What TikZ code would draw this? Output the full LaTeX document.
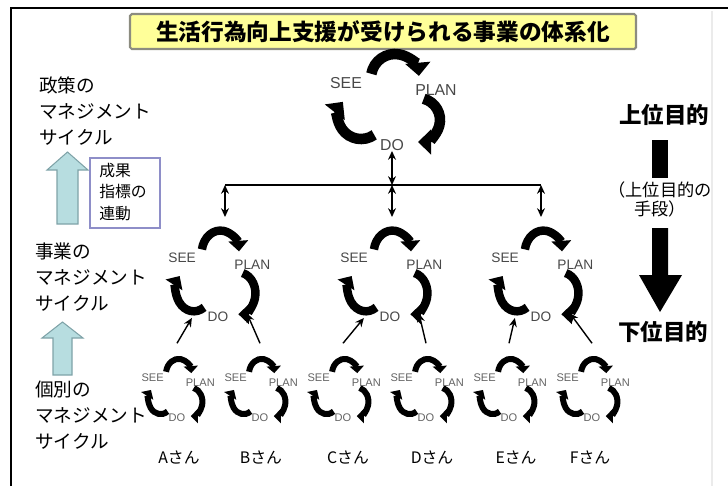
\documentclass[tikz,border=0pt]{standalone}
\usepackage{fontspec}
\setmainfont{Liberation Sans}
\newfontfamily\jp{Noto Sans CJK JP}
\usetikzlibrary{arrows.meta}

\definecolor{titlefill}{HTML}{FFFF99}
\definecolor{titleline}{HTML}{8C8C80}
\definecolor{upfill}{HTML}{B7DDE0}
\definecolor{upline}{HTML}{7FA3A8}
\definecolor{boxline}{HTML}{8E8EC8}
\definecolor{labgray}{HTML}{484848}

\tikzset{
  cyc top/.style={line width=6pt, -{Triangle[width=14pt,length=7.5pt]}},
  cyc mid/.style={line width=4.8pt, -{Triangle[width=11pt,length=6pt]}},
  cyc small/.style={line width=3.4pt, -{Triangle[width=8pt,length=4pt]}},
  lab/.style={inner sep=0pt, text=labgray},
  lab top/.style={lab, font=\fontsize{9}{10}\selectfont},
  lab mid/.style={lab, font=\fontsize{7.8}{9}\selectfont},
  lab small/.style={lab, text=labgray!85, font=\fontsize{6.3}{7}\selectfont},
}

% one SEE-PLAN-DO cycle: name, centre, xscale, yscale, arrow style, label style
\newcommand{\pdcycle}[6]{%
  \begin{scope}[shift={#2}, xscale=#3, yscale=#4]
    \coordinate (#1) at (0,0);
    \coordinate (#1-top) at (0,1.5);
    \coordinate (#1-dl) at (-0.67,-0.82);
    \coordinate (#1-dr) at (0.74,-0.72);
    \draw[#5] (0.06,0.54) ++(170:0.48) arc[start angle=170, end angle=5, radius=0.48];
    \draw[#5] (0.52,-0.30) ++(75:0.44) arc[start angle=75, end angle=-90, radius=0.44];
    \draw[#5] (-0.62,-0.22) ++(-55:0.46) arc[start angle=-55, end angle=-218, radius=0.46];
    \node[#6] (#1-see) at (-0.92,0.44) {SEE};
    \node[#6] (#1-plan) at (0.88,0.30) {PLAN};
    \node[#6] (#1-do) at (0,-0.80) {DO};
  \end{scope}}

\begin{document}
\begin{tikzpicture}[>={Stealth[length=5pt,width=4.5pt]},
    dbl/.style={<->, line width=0.8pt},
    feed/.style={->, line width=0.8pt},
    level/.style={anchor=west, align=left, inner sep=0pt, font=\jp\fontsize{10.6}{15}\selectfont},
    goal/.style={inner sep=0pt, font=\jp\bfseries\fontsize{12.8}{14}\selectfont},
    who/.style={inner sep=0pt, font=\jp\fontsize{9}{10}\selectfont}]

    \useasboundingbox (0,0) rectangle (14.56,-9.72);
    \draw[line width=1pt] (0.22,-9.72) -- (0.22,-0.16) -- (14.56,-0.16);
    \draw[black!8, line width=0.6pt] (14.24,-0.22) -- (14.24,-9.72);

    % title
    \node[draw=titleline, fill=titlefill, line width=1.2pt, rounded corners=1pt,
      minimum width=10.12cm, minimum height=0.70cm, inner sep=0pt,
      font=\jp\bfseries\fontsize{12.9}{14}\selectfont] (title) at (7.66,-0.63)
      {生活行為向上支援が受けられる事業の体系化};

    % cycles
    \pdcycle{top}{(7.84,-2.10)}{1}{1}{cyc top}{lab top}
    \pdcycle{m1}{(4.36,-5.58)}{0.78}{0.95}{cyc mid}{lab mid}
    \pdcycle{m2}{(7.80,-5.58)}{0.78}{0.95}{cyc mid}{lab mid}
    \pdcycle{m3}{(10.82,-5.58)}{0.78}{0.95}{cyc mid}{lab mid}
    \pdcycle{a}{(3.54,-7.84)}{0.53}{0.65}{cyc small}{lab small}
    \pdcycle{b}{(5.20,-7.84)}{0.53}{0.65}{cyc small}{lab small}
    \pdcycle{c}{(6.86,-7.84)}{0.53}{0.65}{cyc small}{lab small}
    \pdcycle{d}{(8.52,-7.84)}{0.53}{0.65}{cyc small}{lab small}
    \pdcycle{e}{(10.18,-7.84)}{0.53}{0.65}{cyc small}{lab small}
    \pdcycle{f}{(11.84,-7.84)}{0.53}{0.65}{cyc small}{lab small}

    \node[who] (who-a) at (3.58,-9.16) {Aさん};
    \node[who] (who-b) at (5.22,-9.16) {Bさん};
    \node[who] (who-c) at (6.96,-9.16) {Cさん};
    \node[who] (who-d) at (8.64,-9.16) {Dさん};
    \node[who] (who-e) at (10.32,-9.16) {Eさん};
    \node[who] (who-f) at (11.80,-9.16) {Fさん};

    % links between the levels
    \coordinate (bar-l) at (4.50,-3.70);
    \coordinate (bar-c) at (7.84,-3.70);
    \coordinate (bar-r) at (10.82,-3.70);
    \coordinate (m1-in) at (4.50,-4.34);
    \coordinate (m2-in) at (7.84,-4.34);
    \coordinate (m3-in) at (10.82,-4.34);
    \draw[line width=0.8pt] (bar-l) -- (bar-r);
    \draw[dbl] (top-do) -- (bar-c);
    \draw[dbl] (bar-l) -- (m1-in);
    \draw[dbl] (bar-c) -- (m2-in);
    \draw[dbl] (bar-r) -- (m3-in);

    \draw[feed] (a-top) -- (m1-dl);
    \draw[feed] (b-top) -- (m1-dr);
    \draw[feed] (c-top) -- (m2-dl);
    \draw[feed] (d-top) -- (m2-dr);
    \draw[feed] (e-top) -- (m3-dl);
    \draw[feed] (f-top) -- (m3-dr);

    % left side
    \node[level] (lvl-policy) at (0.78,-2.22) {政策の\\マネジメント\\サイクル};
    \node[level] (lvl-project) at (0.70,-5.54) {事業の\\マネジメント\\サイクル};
    \node[level] (lvl-person) at (0.70,-8.30) {個別の\\マネジメント\\サイクル};

    \draw[fill=upfill, draw=upline, line width=0.6pt] (1.35,-3.04) -- (1.76,-3.40) -- (1.56,-3.40)
      -- (1.56,-4.48) -- (1.14,-4.48) -- (1.14,-3.40) -- (0.94,-3.40) -- cycle;
    \draw[fill=upfill, draw=upline, line width=0.6pt] (1.25,-6.44) -- (1.66,-6.76) -- (1.44,-6.76)
      -- (1.44,-7.50) -- (1.06,-7.50) -- (1.06,-6.76) -- (0.84,-6.76) -- cycle;

    \draw[boxline, line width=0.7pt] (1.80,-3.16) rectangle (3.20,-4.56);
    \node[anchor=west, align=left, inner sep=0pt, font=\jp\fontsize{9}{12}\selectfont]
      (link) at (1.98,-3.84) {成果\\指標の\\連動};

    % right side
    \node[goal] (goal-up) at (13.28,-2.30) {上位目的};
    \node[goal] (goal-low) at (13.26,-6.64) {下位目的};
    \fill (13.04,-2.80) rectangle (13.36,-3.56);
    \node[align=center, inner sep=0pt, font=\jp\fontsize{9.8}{10.8}\selectfont]
      (means) at (13.20,-3.98) {（上位目的の\\手段）};
    \fill (13.04,-4.56) -- (13.36,-4.56) -- (13.36,-5.50) -- (13.64,-5.50) -- (13.20,-6.24)
      -- (12.78,-5.50) -- (13.04,-5.50) -- cycle;
\end{tikzpicture}
\end{document}
